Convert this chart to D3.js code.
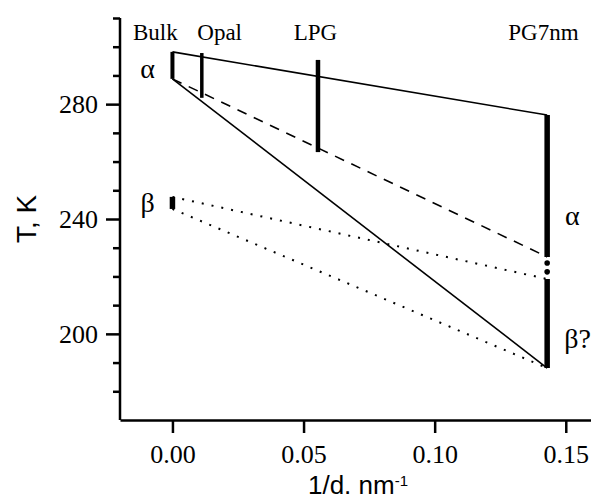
<!DOCTYPE html>
<html>
<head>
<meta charset="utf-8">
<script src="https://cdn.jsdelivr.net/npm/d3@7"></script>
<style>
body { margin:0; background:#fff; }
</style>
</head>
<body>
<div id="chart"></div>
<script>
// samples and their 1/d values
var samples = ["Bulk", "Opal", "LPG", "PG7nm"];
var invD = [0, 0.0112, 0.0555, 0.1429];
// alpha transition ranges (low, high) in K
var alphaLow = [288.8, 282.2, 263.3, 226.8];
var alphaHigh = [298.2, 297.8, 295.4, 276.2];
// beta ranges: bulk and PG7nm
var betaX = [0, 0.1429];
var betaLow = [243.5, 188.1];
var betaHigh = [247.7, 219.1];
// dotted gap on the PG7nm bar
var gapDots = [224.7, 221.6];
// guide lines: [x0, T0, x1, T1]
var solidLines = [[0, 298.2, 0.1429, 276.2], [0, 288.8, 0.1429, 188.1]];
var dashedLines = [[0, 288.8, 0.1429, 226.8]];
var dottedLines = [[0, 247.7, 0.1429, 219.1], [0, 243.5, 0.1429, 188.1]];
// tick values
var xTicks = [0, 0.05, 0.10, 0.15];
var yTicks = [200, 240, 280];
var yMinor = [180, 190, 210, 220, 230, 250, 260, 270, 290, 300, 310];

var width = 591, height = 500;
var serif = "'Liberation Serif', 'Times New Roman', serif";
var sans = "'Liberation Sans', Arial, sans-serif";

var x = d3.scaleLinear().domain([-0.02, 0.16]).range([120, 592]);
var y = d3.scaleLinear().domain([170, 310]).range([420, 18]);

var svg = d3.select("#chart").append("svg")
     .attr("width", width)
     .attr("height", height);

// guide lines
function drawLines(arr, dash, w) {
  svg.selectAll(null)
     .data(arr)
     .enter().append("line")
     .attr("x1", function (d) { return x(d[0]); })
     .attr("y1", function (d) { return y(d[1]); })
     .attr("x2", function (d) { return x(d[2]); })
     .attr("y2", function (d) { return y(d[3]); })
     .attr("stroke", "#000")
     .attr("stroke-width", w)
     .attr("stroke-dasharray", dash);
}
drawLines(solidLines, null, 1.6);
drawLines(dashedLines, "10,8", 1.6);
drawLines(dottedLines, "2,8", 2);

// alpha bars
var barW = [4, 3.5, 4.5, 5.5];
svg.selectAll(".abar")
     .data(samples)
     .enter().append("line")
     .attr("class", "abar")
     .attr("x1", function (d, i) { return x(invD[i]); })
     .attr("x2", function (d, i) { return x(invD[i]); })
     .attr("y1", function (d, i) { return y(alphaLow[i]); })
     .attr("y2", function (d, i) { return y(alphaHigh[i]); })
     .attr("stroke", "#000")
     .attr("stroke-width", function (d, i) { return barW[i]; });

// beta bars
svg.selectAll(".bbar")
     .data(betaX)
     .enter().append("line")
     .attr("class", "bbar")
     .attr("x1", function (d) { return x(d); })
     .attr("x2", function (d) { return x(d); })
     .attr("y1", function (d, i) { return y(betaLow[i]); })
     .attr("y2", function (d, i) { return y(betaHigh[i]); })
     .attr("stroke", "#000")
     .attr("stroke-width", 5.5);

svg.selectAll(".gdot")
     .data(gapDots)
     .enter().append("circle")
     .attr("cx", x(invD[3]))
     .attr("cy", function (d) { return y(d); })
     .attr("r", 2.8)
     .attr("fill", "#000");

// axes
var xAxis = svg.append("g")
     .attr("transform", "translate(0,420)")
     .call(d3.axisBottom(x).tickValues(xTicks).tickSize(13).tickSizeOuter(0).tickPadding(12)
           .tickFormat(d3.format(".2f")));
var yAxis = svg.append("g")
     .attr("transform", "translate(120,0)")
     .call(d3.axisLeft(y).tickValues(yTicks).tickSize(14).tickSizeOuter(0).tickPadding(8)
           .tickFormat(d3.format("d")));
var yAxisMinor = svg.append("g")
     .attr("transform", "translate(120,0)")
     .call(d3.axisLeft(y).tickValues(yMinor).tickSize(7).tickFormat(""));
yAxisMinor.select(".domain").remove();

[xAxis, yAxis, yAxisMinor].forEach(function (g) {
  g.selectAll(".domain").attr("stroke-width", 2.5);
  g.selectAll(".tick line").attr("stroke-width", 2.5);
  g.selectAll("text").style("font-family", serif).style("font-size", "26px").attr("fill", "#000");
});
// y axis runs up to the top tick
yAxis.select(".domain").attr("d", "M0,420V" + y(310));

// axis titles
svg.append("text")
  .attr("transform", "translate(36," + ((18 + 420) / 2) + ") rotate(-90)")
  .style("text-anchor", "middle")
  .style("font-family", sans)
  .style("font-size", "28px")
  .text("T, K");

var xt = svg.append("text")
  .attr("x", 358)
  .attr("y", 494)
  .style("text-anchor", "middle")
  .style("font-family", sans)
  .style("font-size", "26px")
  .text("1/d. nm");
xt.append("tspan")
  .attr("dy", "-0.55em")
  .style("font-size", "15px")
  .text("-1");

// sample labels on top
var labelX = [-0.0065, 0.018, 0.0545, 0.1415];
svg.selectAll(".slabel")
  .data(samples)
  .enter().append("text")
  .attr("x", function (d, i) { return x(labelX[i]); })
  .attr("y", 40)
  .style("text-anchor", "middle")
  .style("font-family", serif)
  .style("font-size", "23px")
  .text(function (d) { return d; });

// phase labels
var phaseText = ["α", "β", "α", "β?"];
var phaseX = [-0.0095, -0.0095, 0.1525, 0.1545];
var phaseT = [289, 242.5, 238, 195];
svg.selectAll(".plabel")
  .data(phaseText)
  .enter().append("text")
  .attr("x", function (d, i) { return x(phaseX[i]); })
  .attr("y", function (d, i) { return y(phaseT[i]); })
  .style("text-anchor", "middle")
  .style("font-family", serif)
  .style("font-size", "28px")
  .text(function (d) { return d; });
</script>
</body>
</html>
